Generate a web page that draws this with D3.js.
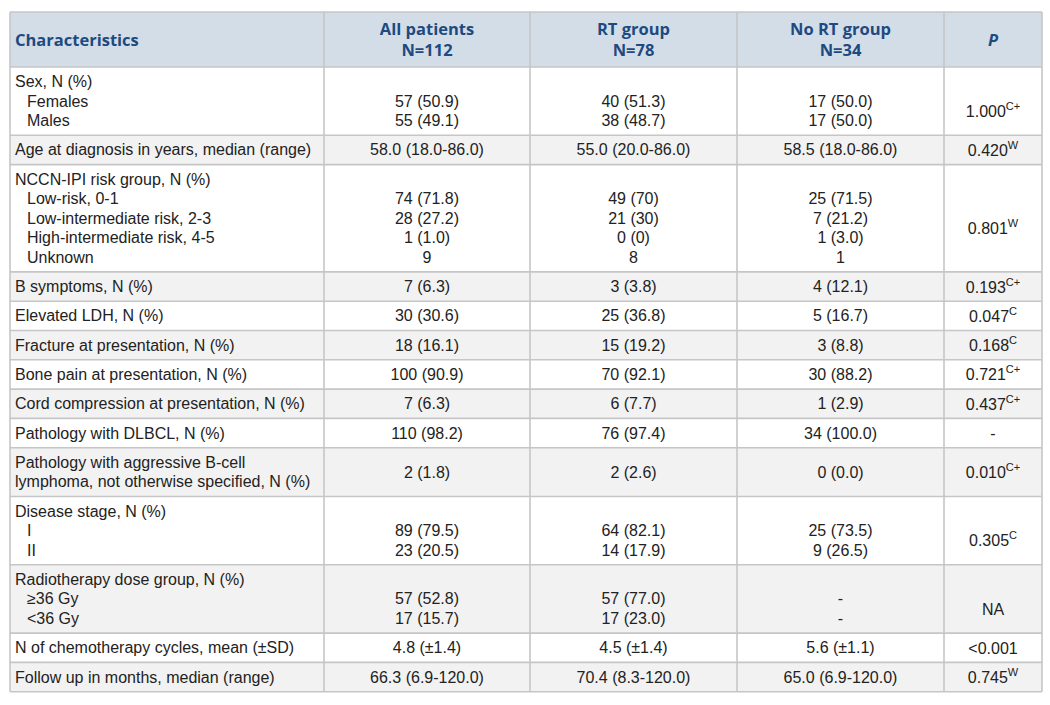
<!DOCTYPE html>
<html>
<head>
<meta charset="utf-8">
<script src="https://cdn.jsdelivr.net/npm/d3@7/dist/d3.min.js"></script>
<style>
  html, body { margin: 0; padding: 0; background: #ffffff; }
  svg { display: block; }
</style>
</head>
<body>
<svg id="chart" width="1050" height="705"></svg>
<script>
// ---------------- DATA ----------------
const columnHeaders = [["Characteristics"], ["All patients", "N=112"], ["RT group", "N=78"], ["No RT group", "N=34"], ["P"]];

const characteristics = [
  ["Sex, N (%)"],
  ["Age at diagnosis in years, median (range)"],
  ["NCCN-IPI risk group, N (%)"],
  ["B symptoms, N (%)"],
  ["Elevated LDH, N (%)"],
  ["Fracture at presentation, N (%)"],
  ["Bone pain at presentation, N (%)"],
  ["Cord compression at presentation, N (%)"],
  ["Pathology with DLBCL, N (%)"],
  ["Pathology with aggressive B-cell", "lymphoma, not otherwise specified, N (%)"],
  ["Disease stage, N (%)"],
  ["Radiotherapy dose group, N (%)"],
  ["N of chemotherapy cycles, mean (±SD)"],
  ["Follow up in months, median (range)"]
];

const subgroups = [
  ["Females", "Males"],
  [],
  ["Low-risk, 0-1", "Low-intermediate risk, 2-3", "High-intermediate risk, 4-5", "Unknown"],
  [], [], [], [], [], [], [],
  ["I", "II"],
  ["≥36 Gy", "<36 Gy"],
  [], []
];

const allPatients = [
  ["57 (50.9)", "55 (49.1)"], ["58.0 (18.0-86.0)"], ["74 (71.8)", "28 (27.2)", "1 (1.0)", "9"],
  ["7 (6.3)"], ["30 (30.6)"], ["18 (16.1)"], ["100 (90.9)"], ["7 (6.3)"], ["110 (98.2)"], ["2 (1.8)"],
  ["89 (79.5)", "23 (20.5)"], ["57 (52.8)", "17 (15.7)"], ["4.8 (±1.4)"], ["66.3 (6.9-120.0)"]
];

const rtGroup = [
  ["40 (51.3)", "38 (48.7)"], ["55.0 (20.0-86.0)"], ["49 (70)", "21 (30)", "0 (0)", "8"],
  ["3 (3.8)"], ["25 (36.8)"], ["15 (19.2)"], ["70 (92.1)"], ["6 (7.7)"], ["76 (97.4)"], ["2 (2.6)"],
  ["64 (82.1)", "14 (17.9)"], ["57 (77.0)", "17 (23.0)"], ["4.5 (±1.4)"], ["70.4 (8.3-120.0)"]
];

const noRtGroup = [
  ["17 (50.0)", "17 (50.0)"], ["58.5 (18.0-86.0)"], ["25 (71.5)", "7 (21.2)", "1 (3.0)", "1"],
  ["4 (12.1)"], ["5 (16.7)"], ["3 (8.8)"], ["30 (88.2)"], ["1 (2.9)"], ["34 (100.0)"], ["0 (0.0)"],
  ["25 (73.5)", "9 (26.5)"], ["-", "-"], ["5.6 (±1.1)"], ["65.0 (6.9-120.0)"]
];

const pValues = ["1.000", "0.420", "0.801", "0.193", "0.047", "0.168", "0.721", "0.437", "-", "0.010", "0.305", "NA", "<0.001", "0.745"];
const pTests  = ["C+", "W", "W", "C+", "C", "C", "C+", "C+", "", "C+", "C", "", "", "W"];

// ---------------- LAYOUT ----------------
const colEdges = [10, 324, 530, 737, 944, 1042];
const tableTop = 12, headerH = 55;
const linePad = 9.8, lineH = 19.5;
const colors = {
  headerBg: "#d3dde7", headerText: "#1d4a80", rowAlt: "#f2f2f2", rowBase: "#ffffff",
  border: "#c6c6c6", text: "#222222"
};
const bodyFont = "'Liberation Sans', Arial, sans-serif";
const headFont = "'Open Sans', 'Noto Sans', sans-serif";

const svg = d3.select("#chart");

const colKeys = d3.range(5);
const xLeft = d3.scaleOrdinal().domain(colKeys).range(colEdges.slice(0, 5));
const xRight = d3.scaleOrdinal().domain(colKeys).range(colEdges.slice(1));
const xMid = k => (xLeft(k) + xRight(k)) / 2;

const rows = characteristics.map((lab, i) => {
  const nLines = subgroups[i].length ? 1 + subgroups[i].length : lab.length;
  return {
    i, label: lab, subs: subgroups[i], nLines,
    vals: [allPatients[i], rtGroup[i], noRtGroup[i]],
    p: pValues[i], pt: pTests[i]
  };
});
let acc = tableTop + headerH;
rows.forEach(r => { r.y0 = acc; r.h = linePad + lineH * r.nLines; acc += r.h; r.y1 = acc; });
const tableBottom = acc;

// row backgrounds
svg.append("rect").attr("x", colEdges[0]).attr("y", tableTop)
  .attr("width", colEdges[5] - colEdges[0]).attr("height", headerH).attr("fill", colors.headerBg);

svg.selectAll("rect.row").data(rows).join("rect").attr("class", "row")
  .attr("x", colEdges[0]).attr("y", d => d.y0)
  .attr("width", colEdges[5] - colEdges[0]).attr("height", d => d.h)
  .attr("fill", d => d.i % 2 === 1 ? colors.rowAlt : colors.rowBase);

// header text
const hdr = svg.append("g");
columnHeaders.forEach((lines, k) => {
  const t = hdr.append("text")
    .attr("font-family", headFont).attr("font-weight", 700).attr("font-size", 16.5)
    .attr("fill", colors.headerText)
    .attr("dominant-baseline", "central")
    .attr("font-style", k === 4 ? "italic" : "normal")
    .attr("text-anchor", k === 0 ? "start" : "middle")
    .attr("x", k === 0 ? xLeft(k) + 5 : xMid(k));
  const cy = tableTop + headerH / 2;
  lines.forEach((ln, j) => {
    t.append("tspan").attr("x", k === 0 ? xLeft(k) + 5 : xMid(k))
      .attr("y", cy + (j - (lines.length - 1) / 2) * 21 - 1).text(ln);
  });
});

// body text
const lineY = (r, j) => r.y0 + linePad / 2 + lineH * (j + 0.5);
const body = svg.append("g").attr("font-family", bodyFont).attr("font-size", 16).attr("fill", colors.text);

rows.forEach(r => {
  // label column
  const labelLines = r.subs.length ? [r.label[0]] : r.label;
  labelLines.forEach((ln, j) => {
    body.append("text").attr("x", xLeft(0) + 5).attr("y", lineY(r, j))
      .attr("dominant-baseline", "central").text(ln);
  });
  r.subs.forEach((s, j) => {
    body.append("text").attr("x", xLeft(0) + 17).attr("y", lineY(r, j + 1))
      .attr("dominant-baseline", "central").text(s);
  });
  // value columns
  r.vals.forEach((vs, c) => {
    vs.forEach((v, j) => {
      const y = r.subs.length ? lineY(r, j + 1) : (r.y0 + r.y1) / 2;
      body.append("text").attr("x", xMid(c + 1)).attr("y", y)
        .attr("text-anchor", "middle").attr("dominant-baseline", "central").text(v);
    });
  });
  // p column
  const pY = r.subs.length ? (lineY(r, 1) + lineY(r, r.subs.length)) / 2 : (r.y0 + r.y1) / 2;
  const pt = body.append("text").attr("x", xMid(4)).attr("y", pY)
    .attr("text-anchor", "middle").attr("dominant-baseline", "central");
  pt.append("tspan").text(r.p);
  if (r.pt) {
    pt.append("tspan").attr("font-size", 11).attr("dy", -5).text(r.pt);
  }
});

// grid lines
const grid = svg.append("g").attr("stroke", colors.border).attr("stroke-width", 1.6).attr("fill", "none");
const hLines = [tableTop, tableTop + headerH].concat(rows.map(r => r.y1));
grid.selectAll("line.h").data(hLines).join("line").attr("class", "h")
  .attr("x1", colEdges[0]).attr("x2", colEdges[5]).attr("y1", d => d).attr("y2", d => d);
grid.selectAll("line.v").data(colEdges).join("line").attr("class", "v")
  .attr("x1", d => d).attr("x2", d => d).attr("y1", tableTop).attr("y2", tableBottom);
</script>
</body>
</html>
